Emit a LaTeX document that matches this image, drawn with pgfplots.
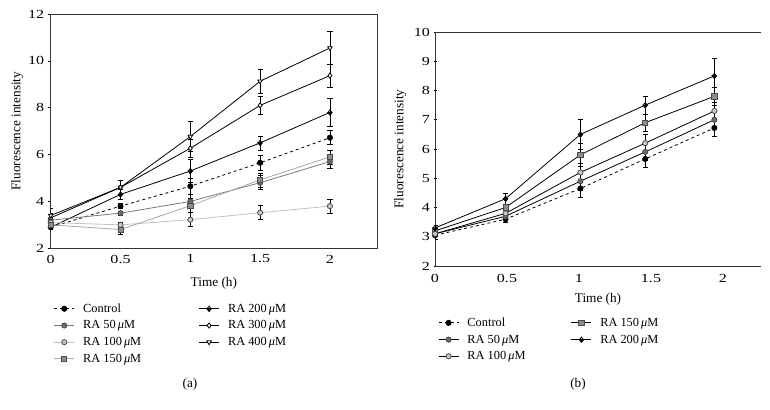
\documentclass[border=0pt]{standalone}
\usepackage{pgfplots}
\pgfplotsset{compat=1.18}
\usepackage{fontspec}
\setmainfont{Liberation Serif}
\newfontfamily\tickfamily[FakeStretch=1.3]{Liberation Serif}

\definecolor{darkg}{HTML}{6A6A6A}
\definecolor{midg}{HTML}{8C8C8C}
\definecolor{lightg}{HTML}{C8C8C8}
\definecolor{lineA}{HTML}{7A7A7A}
\definecolor{lineB}{HTML}{C0C0C0}
\definecolor{lineC}{HTML}{A8A8A8}

\newcommand{\figfont}{\fontsize{13.3}{15.5}\selectfont}
\newcommand{\legfont}{\fontsize{12.4}{15}\selectfont}
\newcommand{\tickfont}{\tickfamily\fontsize{12.4}{15}\selectfont}

% diamond, white on top and black below
\pgfdeclareplotmark{halfdiamond}{%
  \pgfpathmoveto{\pgfqpoint{-.8\pgfplotmarksize}{0pt}}%
  \pgfpathlineto{\pgfqpoint{0pt}{-\pgfplotmarksize}}%
  \pgfpathlineto{\pgfqpoint{.8\pgfplotmarksize}{0pt}}%
  \pgfpathclose
  \pgfusepathqfillstroke
  \pgfpathmoveto{\pgfqpoint{-.8\pgfplotmarksize}{0pt}}%
  \pgfpathlineto{\pgfqpoint{0pt}{\pgfplotmarksize}}%
  \pgfpathlineto{\pgfqpoint{.8\pgfplotmarksize}{0pt}}%
  \pgfpathlineto{\pgfqpoint{0pt}{-\pgfplotmarksize}}%
  \pgfpathclose
  \pgfusepathqstroke
}

\pgfplotsset{
  fig/.style={
    scale only axis,
    anchor=south west,
    xmin=0, ymin=2,
    xtick={0,0.5,1,1.5,2},
    xticklabels={0,0.5,1,1.5,2},
    /pgf/number format/assume math mode=true,
    tick label style={font=\tickfont},
    tick align=outside, ytick pos=left, xtick pos=bottom,
    major x tick style={draw=none},
    major tick length=3bp,
    y tick style={black, line width=0.6bp},
    xlabel={\figfont Time (h)}, ylabel={\figfont Fluorescence intensity},
    axis line style={line width=0.6bp, black!80},
    legend cell align=left,
    legend columns=2,
    legend style={draw=none, fill=none, anchor=north west, font=\legfont,
      nodes={inner xsep=1.5bp, inner ysep=1.2bp}, row sep=4.5bp,
      /tikz/every odd column/.append style={column sep=7bp},
      /tikz/every even column/.append style={column sep=56bp}},
    legend image code/.code={\draw[mark repeat=2,mark phase=2]
      plot coordinates {(0bp,0bp)(10bp,0bp)(20bp,0bp)};},
  },
  eb/.style={line width=0.8bp, mark size=2.6bp,
    /pgfplots/error bars/y dir=both,
    /pgfplots/error bars/y explicit,
    /pgfplots/error bars/error bar style={black, line width=0.6bp, solid},
    /pgfplots/error bars/error mark options={rotate=90, black, mark size=2.6bp, line width=0.6bp, solid}},
}

\begin{document}
\begin{tikzpicture}[font=\figfont]
\path[use as bounding box] (0,0) rectangle (770bp,410bp);

% ---------------- (a) ----------------
\begin{axis}[fig,
  at={(50.7bp,161.7bp)}, width=326.3bp, height=234.3bp,
  xmax=2.337, ymax=12, ytick={2,4,...,12},
  xlabel style={at={(axis description cs:0.5,-0.148)}, anchor=center},
  ylabel style={at={(axis description cs:-0.103,0.5)}, anchor=center},
  legend style={at={(0,-0.222)}},
]
\addplot[eb, black, dashed, mark=*, mark options={solid, fill=black}]
  coordinates {(0,2.9) +- (0,0.1) (0.5,3.8) +- (0,0.1) (1,4.65) +- (0,0.35) (1.5,5.65) +- (0,0.3) (2,6.72) +- (0,0.3)};
\addlegendentry{Control}
\addplot[eb, black, mark=halfdiamond, mark options={fill=black, draw=black}]
  coordinates {(0,2.9) +- (0,0.1) (0.5,4.3) +- (0,0.2) (1,5.3) +- (0,0.5) (1.5,6.5) +- (0,0.3) (2,7.8) +- (0,0.6)};
\addlegendentry{RA 200\,\textit{μ}M}
\addplot[eb, lineA, mark=*, mark options={fill=darkg, draw=black!70}]
  coordinates {(0,3.2) +- (0,0.1) (0.5,3.5) +- (0,0.1) (1,4.0) +- (0,0.3) (1.5,4.8) +- (0,0.3) (2,5.7) +- (0,0.3)};
\addlegendentry{RA 50\,\textit{μ}M}
\addplot[eb, black, mark=diamond*, mark options={fill=white, draw=black}]
  coordinates {(0,3.3) +- (0,0.2) (0.5,4.6) +- (0,0.3) (1,6.27) +- (0,0.4) (1.5,8.1) +- (0,0.4) (2,9.37) +- (0,0.5)};
\addlegendentry{RA 300\,\textit{μ}M}
\addplot[eb, lineB, mark=*, mark options={fill=lightg, draw=black!70}]
  coordinates {(0,3.1) +- (0,0.1) (0.5,3.0) +- (0,0.1) (1,3.22) +- (0,0.3) (1.5,3.52) +- (0,0.3) (2,3.8) +- (0,0.3)};
\addlegendentry{RA 100\,\textit{μ}M}
\addplot[eb, black, mark=triangle*, mark options={fill=white, draw=black, rotate=180}]
  coordinates {(0,3.4) +- (0,0.3) (0.5,4.6) +- (0,0.3) (1,6.77) +- (0,0.63) (1.5,9.13) +- (0,0.5) (2,10.55) +- (0,0.7)};
\addlegendentry{RA 400\,\textit{μ}M}
\addplot[eb, lineC, mark=square*, mark options={fill=midg, draw=black!70}]
  coordinates {(0,3.0) +- (0,0.1) (0.5,2.8) +- (0,0.2) (1,3.82) +- (0,0.3) (1.5,4.92) +- (0,0.3) (2,5.9) +- (0,0.3)};
\addlegendentry{RA 150\,\textit{μ}M}
\end{axis}

% ---------------- (b) ----------------
\begin{axis}[fig,
  at={(435bp,144bp)}, width=326bp, height=234bp,
  axis x line=box, axis y line=left, axis line style={-},
  xmax=2.264, ymax=10, ytick={2,3,...,10},
  xticklabel style={yshift=-2bp},
  xlabel style={at={(axis description cs:0.5,-0.141)}, anchor=center},
  ylabel style={at={(axis description cs:-0.107,0.5)}, anchor=center},
  legend style={at={(0,-0.207)}, /tikz/every even column/.append style={column sep=44bp}},
]
\addplot[eb, black, dashed, mark=*, mark options={solid, fill=black}]
  coordinates {(0,3.05) +- (0,0.15) (0.49,3.6) +- (0,0.1) (1.01,4.65) +- (0,0.3) (1.46,5.66) +- (0,0.3) (1.94,6.72) +- (0,0.3)};
\addlegendentry{Control}
\addplot[eb, black, mark=square*, mark options={fill=midg, draw=black!70}]
  coordinates {(0,3.2) +- (0,0.1) (0.49,4.0) +- (0,0.1) (1.01,5.8) +- (0,0.4) (1.46,6.9) +- (0,0.3) (1.94,7.8) +- (0,0.3)};
\addlegendentry{RA 150\,\textit{μ}M}
\addplot[eb, black, mark=*, mark options={fill=darkg, draw=black!70}]
  coordinates {(0,3.1) +- (0,0.1) (0.49,3.7) +- (0,0.1) (1.01,4.9) +- (0,0.3) (1.46,5.9) +- (0,0.3) (1.94,7.0) +- (0,0.3)};
\addlegendentry{RA 50\,\textit{μ}M}
\addplot[eb, black, mark=halfdiamond, mark options={fill=black, draw=black}]
  coordinates {(0,3.3) +- (0,0.1) (0.49,4.3) +- (0,0.2) (1.01,6.5) +- (0,0.5) (1.46,7.5) +- (0,0.3) (1.94,8.5) +- (0,0.6)};
\addlegendentry{RA 200\,\textit{μ}M}
\addplot[eb, black, mark=*, mark options={fill=lightg, draw=black!70}]
  coordinates {(0,3.1) +- (0,0.1) (0.49,3.8) +- (0,0.1) (1.01,5.2) +- (0,0.3) (1.46,6.2) +- (0,0.3) (1.94,7.3) +- (0,0.3)};
\addlegendentry{RA 100\,\textit{μ}M}
\end{axis}

\node[font=\figfont] at (190bp,26bp) {(a)};
\node[font=\figfont] at (578bp,26bp) {(b)};
\end{tikzpicture}
\end{document}
